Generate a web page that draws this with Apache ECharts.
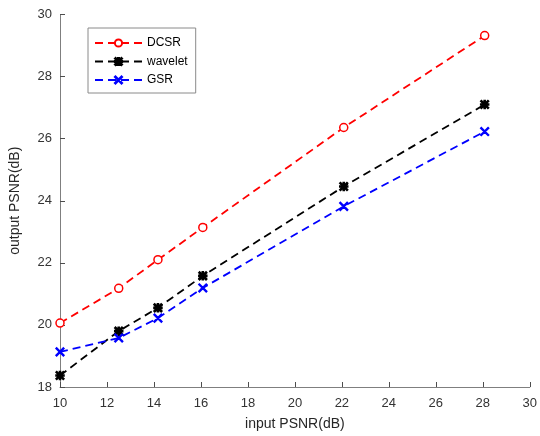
<!DOCTYPE html>
<html>
<head>
<meta charset="utf-8">
<script src="https://cdn.jsdelivr.net/npm/echarts@6/dist/echarts.min.js"></script>
<style>
  html, body { margin: 0; padding: 0; background: #fff; }
  #chart { width: 540px; height: 436px; }
</style>
</head>
<body>
<div id="chart"></div>
<script>
// input PSNR values (x)
const inputPsnr = [10, 12.5, 14.17, 16.08, 22.08, 28.08];
const dcsr = [20.06, 21.18, 22.1, 23.14, 26.36, 29.32];
const wavelet = [18.37, 19.8, 20.55, 21.58, 24.46, 27.1];
const gsr = [19.13, 19.58, 20.22, 21.19, 23.82, 26.23];

const crossPath = "path://M0,0.8L0.8,0L10,9.2L9.2,10ZM9.2,0L10,0.8L0.8,10L0,9.2Z";
const starPath = "path://M0,1L1,0L10,9L9,10ZM9,0L10,1L1,10L0,9ZM0,4.3L10,4.3L10,5.7L0,5.7ZM4.3,0L5.7,0L5.7,10L4.3,10Z";

const font = "Liberation Sans, Arial, sans-serif";

function pairs(ys) {
  return inputPsnr.map((x, i) => [x, ys[i]]);
}

function makeSeries(name, ys, color, symbol, size, fill) {
  return {
    name: name,
    type: "line",
    data: pairs(ys),
    symbol: symbol,
    symbolSize: size,
    showAllSymbol: true,
    lineStyle: { color: color, width: 1.8, type: [8, 5] },
    itemStyle: { color: fill, borderColor: color, borderWidth: 1.5 },
    emphasis: { disabled: true },
    animation: false,
  };
}

const chart = echarts.init(document.getElementById("chart"));
chart.setOption({
  animation: false,
  grid: { left: 60, right: 8, top: 14.5, bottom: 47.7, containLabel: false },
  legend: {
    left: 88,
    top: 28,
    orient: "vertical",
    itemWidth: 47,
    itemHeight: 9,
    itemGap: 6.5,
    padding: [9, 8, 7, 6],
    borderColor: "#8a8a8a",
    borderWidth: 1,
    backgroundColor: "#fff",
    textStyle: { fontFamily: font, fontSize: 12, color: "#000" },
    data: ["DCSR", "wavelet", "GSR"],
  },
  xAxis: {
    type: "value",
    min: 10,
    max: 30,
    interval: 2,
    name: "input PSNR(dB)",
    nameLocation: "middle",
    nameGap: 30,
    nameTextStyle: { fontFamily: font, fontSize: 14, color: "#262626" },
    axisLine: { lineStyle: { color: "#7f7f7f", width: 1 } },
    axisTick: { inside: true, length: 5, lineStyle: { color: "#4d4d4d" } },
    axisLabel: { fontFamily: font, fontSize: 13, color: "#333", margin: 10 },
    splitLine: { show: false },
  },
  yAxis: {
    type: "value",
    min: 18,
    max: 30,
    interval: 2,
    name: "output PSNR(dB)",
    nameLocation: "middle",
    nameGap: 38,
    nameTextStyle: { fontFamily: font, fontSize: 14, color: "#262626" },
    axisLine: { show: true, lineStyle: { color: "#7f7f7f", width: 1 } },
    axisTick: { show: true, inside: true, length: 5, lineStyle: { color: "#4d4d4d" } },
    axisLabel: { fontFamily: font, fontSize: 13, color: "#333", margin: 8 },
    splitLine: { show: false },
  },
  series: [
    makeSeries("DCSR", dcsr, "#ff0000", "circle", 8, "#fff"),
    makeSeries("wavelet", wavelet, "#000000", starPath, 8, "#000"),
    makeSeries("GSR", gsr, "#0000ff", crossPath, 8, "#0000ff"),
  ],
});
</script>
</body>
</html>
